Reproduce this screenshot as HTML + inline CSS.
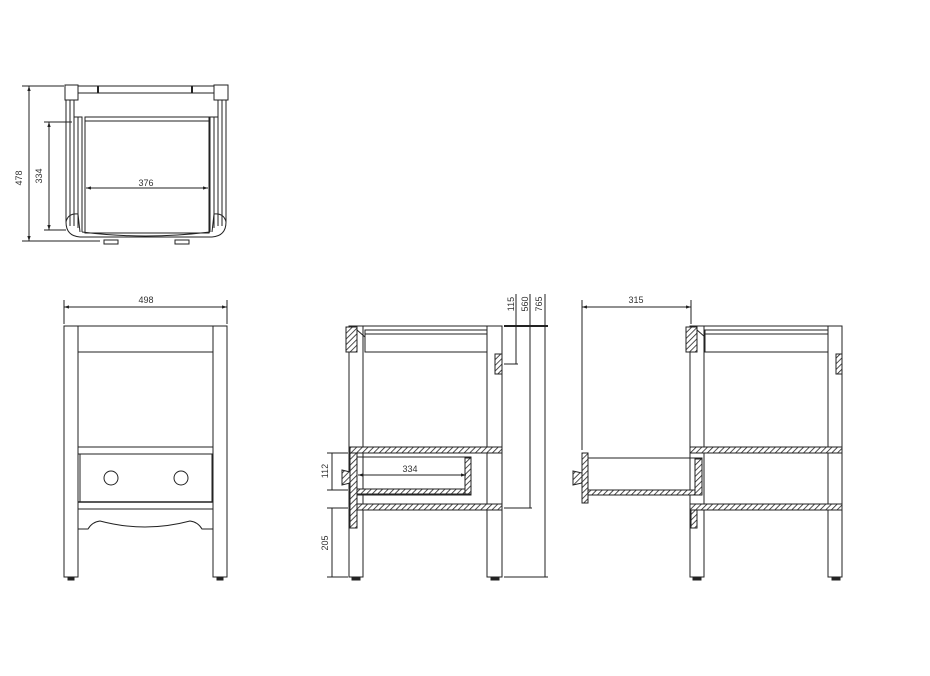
<!DOCTYPE html>
<html><head><meta charset="utf-8"><style>
html,body{margin:0;padding:0;background:#fff;}
svg{display:block;}
text{font-family:"Liberation Sans",sans-serif;font-size:9px;fill:#333;}
</style></head><body>
<svg width="930" height="676" viewBox="0 0 930 676" xmlns="http://www.w3.org/2000/svg">
<defs>
<pattern id="h" patternUnits="userSpaceOnUse" width="4" height="4" patternTransform="rotate(45)">
<rect width="4" height="4" fill="#fff"/><line x1="0" y1="0" x2="0" y2="4" stroke="#222" stroke-width="1.6"/>
</pattern>
<marker id="a" viewBox="0 0 6 6" refX="6" refY="3" markerWidth="5" markerHeight="5" orient="auto-start-reverse"><path d="M0,1 L6,3 L0,5z" fill="#222"/></marker>
</defs>
<g fill="none" stroke="#222" stroke-width="1">
<!-- TOP VIEW -->
<rect x="65" y="85" width="13" height="15"/>
<rect x="214" y="85" width="14" height="15"/>
<line x1="78" y1="86" x2="214" y2="86"/><line x1="78" y1="93" x2="214" y2="93"/>
<line x1="98" y1="86" x2="98" y2="93" stroke-width="2"/><line x1="192" y1="86" x2="192" y2="93" stroke-width="2"/>
<path d="M66,100 V222 Q66,236 80,237 H212 Q226,236 226,222 V100"/>
<line x1="70" y1="100" x2="70" y2="226"/><line x1="74" y1="100" x2="74" y2="226"/>
<line x1="218" y1="100" x2="218" y2="226"/><line x1="222" y1="100" x2="222" y2="226"/>
<path d="M74,117 H78 V228"/><path d="M78,117 H82 V232"/>
<path d="M218,117 H214 V228"/><path d="M214,117 H210 V232"/>
<rect x="85" y="117" width="124" height="116"/>
<line x1="85" y1="121" x2="209" y2="121"/>
<path d="M66,222 Q68,213 78,214 L80,232"/><path d="M226,222 Q224,213 214,214 L212,232"/>
<path d="M82,232 Q145,240 210,232"/>
<rect x="104" y="240" width="14" height="4"/><rect x="175" y="240" width="14" height="4"/>
<line x1="22" y1="86" x2="64" y2="86"/><line x1="22" y1="241" x2="100" y2="241"/>
<line x1="29" y1="86" x2="29" y2="241" marker-start="url(#a)" marker-end="url(#a)"/>
<line x1="44" y1="122" x2="72" y2="122"/><line x1="44" y1="230" x2="66" y2="230"/>
<line x1="49" y1="122" x2="49" y2="230" marker-start="url(#a)" marker-end="url(#a)"/>
<line x1="86" y1="188" x2="208" y2="188" marker-start="url(#a)" marker-end="url(#a)"/>

<!-- FRONT VIEW -->
<line x1="64" y1="300" x2="64" y2="324"/><line x1="227" y1="300" x2="227" y2="324"/>
<line x1="64" y1="307" x2="227" y2="307" marker-start="url(#a)" marker-end="url(#a)"/>
<path d="M64,326 H227"/>
<rect x="64" y="326" width="14" height="251"/><rect x="213" y="326" width="14" height="251"/>
<line x1="78" y1="352" x2="213" y2="352"/>
<line x1="78" y1="447" x2="213" y2="447"/><line x1="78" y1="454" x2="213" y2="454"/>
<rect x="80" y="454" width="132" height="48"/>
<circle cx="111" cy="478" r="7"/><circle cx="181" cy="478" r="7"/>
<line x1="78" y1="502" x2="213" y2="502" stroke-width="1.5"/><line x1="78" y1="509" x2="213" y2="509"/>
<path d="M78,529 H88 Q92,522 100,521 Q145,533 190,521 Q198,522 202,529 H213"/>
<rect x="68" y="577" width="6" height="3" fill="#222"/><rect x="217" y="577" width="6" height="3" fill="#222"/>

<!-- SIDE VIEW -->
<line x1="349" y1="326" x2="502" y2="326"/>
<rect x="349" y="326" width="14" height="251"/><rect x="487" y="326" width="15" height="251"/>
<rect x="346" y="327" width="11" height="25" fill="url(#h)"/>
<path d="M357,330 L365,337"/>
<rect x="365" y="330" width="122" height="22"/><line x1="365" y1="334" x2="487" y2="334"/>
<rect x="495" y="354" width="7" height="20" fill="url(#h)"/>
<rect x="350" y="447" width="152" height="6" fill="url(#h)"/>
<rect x="350" y="504" width="152" height="6" fill="url(#h)"/>
<rect x="350" y="453" width="7" height="75" fill="url(#h)"/>
<rect x="357" y="457" width="114" height="38"/>
<rect x="357" y="489" width="108" height="5" fill="url(#h)"/>
<rect x="465" y="458" width="6" height="36" fill="url(#h)"/>
<path d="M342,470 L350,472 L350,483 L342,485 Z" fill="url(#h)"/>
<rect x="352" y="577" width="8" height="3" fill="#222"/><rect x="491" y="577" width="8" height="3" fill="#222"/>
<line x1="358" y1="475" x2="466" y2="475" marker-start="url(#a)" marker-end="url(#a)"/>
<line x1="327" y1="453" x2="348" y2="453"/><line x1="327" y1="490" x2="348" y2="490"/>
<line x1="332" y1="453" x2="332" y2="490"/>
<line x1="327" y1="508" x2="348" y2="508"/><line x1="327" y1="577" x2="348" y2="577"/>
<line x1="332" y1="508" x2="332" y2="577"/>
<line x1="504" y1="326" x2="548" y2="326" stroke-width="2"/>
<line x1="504" y1="364" x2="518" y2="364"/>
<line x1="504" y1="508" x2="532" y2="508"/>
<line x1="504" y1="577" x2="548" y2="577"/>
<line x1="516" y1="294" x2="516" y2="364"/>
<line x1="530" y1="294" x2="530" y2="508"/>
<line x1="545" y1="294" x2="545" y2="577"/>

<!-- OPEN VIEW -->
<line x1="582" y1="300" x2="582" y2="450"/><line x1="691" y1="300" x2="691" y2="324"/>
<line x1="582" y1="307" x2="691" y2="307" marker-start="url(#a)" marker-end="url(#a)"/>
<line x1="690" y1="326" x2="842" y2="326"/>
<rect x="690" y="326" width="14" height="251"/><rect x="828" y="326" width="14" height="251"/>
<rect x="686" y="327" width="11" height="25" fill="url(#h)"/>
<path d="M697,330 L705,337"/>
<rect x="705" y="330" width="123" height="22"/><line x1="705" y1="334" x2="828" y2="334"/>
<rect x="836" y="354" width="6" height="20" fill="url(#h)"/>
<rect x="690" y="447" width="152" height="6" fill="url(#h)"/>
<rect x="690" y="504" width="152" height="6" fill="url(#h)"/>
<rect x="691" y="510" width="6" height="18" fill="url(#h)"/>
<rect x="582" y="453" width="6" height="50" fill="url(#h)"/>
<rect x="588" y="458" width="114" height="37"/>
<rect x="588" y="490" width="108" height="5" fill="url(#h)"/>
<rect x="695" y="459" width="7" height="36" fill="url(#h)"/>
<path d="M573,471 L582,473 L582,483 L573,485 Z" fill="url(#h)"/>
<rect x="693" y="577" width="8" height="3" fill="#222"/><rect x="832" y="577" width="8" height="3" fill="#222"/>
</g>
<g>
<text x="22" y="178" text-anchor="middle" transform="rotate(-90 22 178)">478</text>
<text x="42" y="176" text-anchor="middle" transform="rotate(-90 42 176)">334</text>
<text x="146" y="186" text-anchor="middle">376</text>
<text x="146" y="303" text-anchor="middle">498</text>
<text x="636" y="303" text-anchor="middle">315</text>
<text x="410" y="472" text-anchor="middle">334</text>
<text x="328" y="471" text-anchor="middle" transform="rotate(-90 328 471)">112</text>
<text x="328" y="543" text-anchor="middle" transform="rotate(-90 328 543)">205</text>
<text x="514" y="304" text-anchor="middle" transform="rotate(-90 514 304)">115</text>
<text x="528" y="304" text-anchor="middle" transform="rotate(-90 528 304)">560</text>
<text x="542" y="304" text-anchor="middle" transform="rotate(-90 542 304)">765</text>
</g>
</svg>
</body></html>
